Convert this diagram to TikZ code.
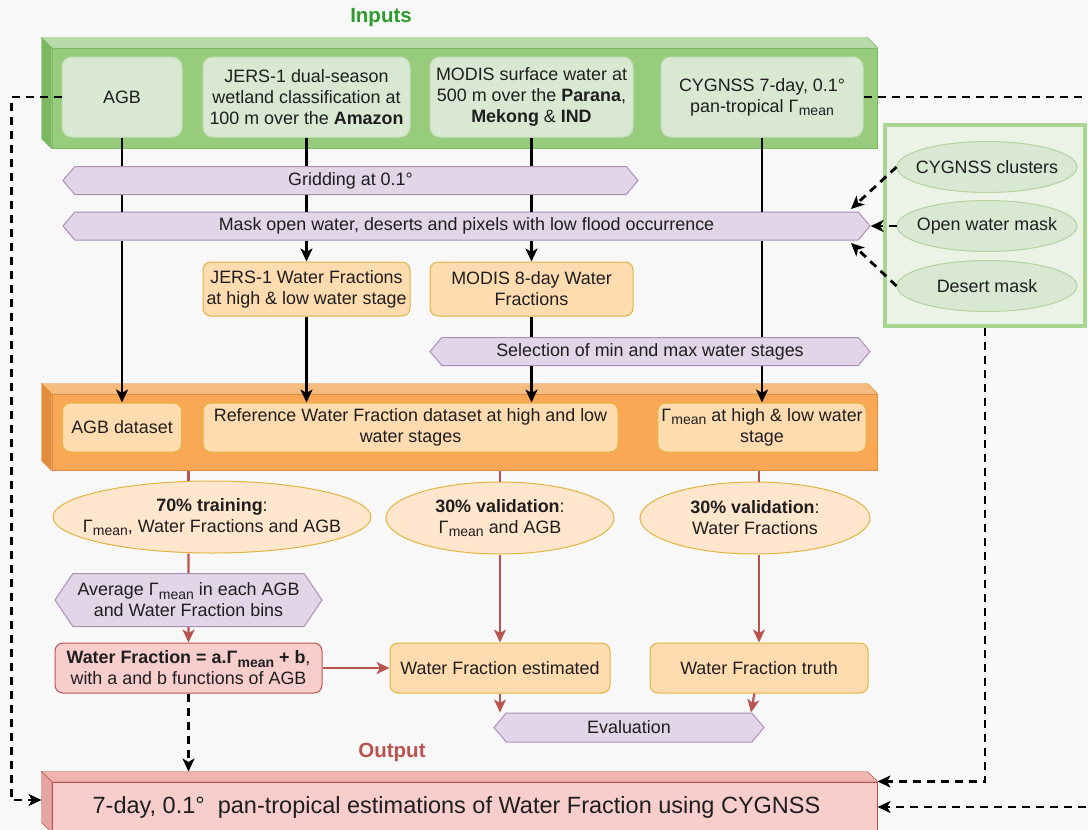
\documentclass[tikz,border=0pt]{standalone}
\usepackage{fontspec}
\setmainfont{Liberation Sans}
\usetikzlibrary{calc,positioning,arrows.meta,shapes.geometric,shapes.symbols}

\definecolor{bgcol}{RGB}{248,248,248}
\definecolor{txtcol}{RGB}{30,30,30}
\definecolor{inputgreen}{RGB}{45,155,45}
\definecolor{outred}{RGB}{184,84,80}
\definecolor{grfront}{RGB}{150,204,124}
\definecolor{grtop}{RGB}{184,218,168}
\definecolor{grside}{RGB}{124,184,96}
\definecolor{grinner}{RGB}{216,232,210}
\definecolor{grline}{RGB}{130,179,102}
\definecolor{grpanel}{RGB}{234,243,229}
\definecolor{grpanelline}{RGB}{168,214,145}
\definecolor{orfront}{RGB}{250,168,86}
\definecolor{ortop}{RGB}{246,188,128}
\definecolor{orside}{RGB}{226,140,60}
\definecolor{orinner}{RGB}{255,220,176}
\definecolor{orline}{RGB}{215,155,0}
\definecolor{orell}{RGB}{255,230,204}
\definecolor{pufill}{RGB}{225,213,231}
\definecolor{puline}{RGB}{150,115,166}
\definecolor{pkfill}{RGB}{248,206,204}
\definecolor{pktop}{RGB}{240,180,176}
\definecolor{pkside}{RGB}{230,165,160}
\definecolor{pkline}{RGB}{184,84,80}

\newcommand{\gmean}{Γ\kern0.3pt\raisebox{-0.35ex}{\fontsize{14}{14}\selectfont mean}}

\begin{document}
\begin{tikzpicture}[x=1pt, y=-1pt,
	font=\fontsize{17.9}{21}\selectfont,
	every node/.style={align=center, text=txtcol},
	title/.style={font=\fontsize{20.5}{24}\selectfont\bfseries},
	cubefront/.style={rectangle, minimum width=825pt, line width=1pt},
	inbox/.style={rectangle, rounded corners=10pt, fill=grinner, draw=grline!45, line width=1pt, minimum height=80pt},
	wfbox/.style={rectangle, rounded corners=8pt, fill=orinner, draw=orline!75, line width=1pt, minimum height=50pt},
	resbox/.style={wfbox, fill=pkfill, draw=pkline},
	procarrow/.style={signal, signal to=east and west, signal pointer angle=100, fill=pufill, draw=puline!80, line width=1pt, minimum height=28pt, inner sep=1pt},
	subset/.style={ellipse, fill=orell, draw=orline!75, line width=1pt, minimum height=72pt, inner xsep=-25pt, inner ysep=0pt},
	maskpanel/.style={rectangle, fill=grpanel, draw=grpanelline, line width=4pt},
	maskell/.style={ellipse, fill=grinner, draw=grline!60, line width=1pt, minimum width=180pt, minimum height=51pt, inner xsep=-20pt, inner ysep=0pt},
	link/.style={draw=black, line width=2.6pt},
	flow/.style={link, -{Stealth[length=13pt,width=12pt,inset=3.5pt]}},
	redlink/.style={draw=pkline, line width=2.2pt},
	redflow/.style={redlink, -{Stealth[length=13pt,width=12pt,inset=3.5pt]}},
	dashflow/.style={draw=black, line width=2.8pt, dash pattern=on 8pt off 6pt, -{Stealth[length=13pt,width=12pt,inset=3.5pt]}}
]

	% ---- parameters

	\def\depth{10}

	% ---- canvas

	\fill[bgcol] (0,0) rectangle (1088,830);
	\useasboundingbox (0,0) rectangle (1088,830);

	% ---- titles

	\node[title, text=inputgreen] (intitle) at (381,18) {Inputs};
	\node[title, text=outred] (outtitle) at (392,752) {Output};

	% ---- cube fronts

	\node[cubefront, fill=grfront, draw=grside, minimum height=100pt] (inputs) at (464.5,98) {};
	\node[cubefront, fill=orfront, draw=orside, minimum height=76pt] (datasets) at (464.5,432) {};
	\node[cubefront, fill=pkfill, draw=pkline, minimum height=50pt,
		font=\fontsize{23.5}{28}\selectfont] (output) at (464.5,807)
		{7-day, 0.1°\ \ pan-tropical estimations of Water Fraction using CYGNSS\hspace{16pt}};

	% ---- cube tops and sides

	\foreach \n/\top/\side/\edge in {inputs/grtop/grside/grside, datasets/ortop/orside/orside, output/pktop/pkside/pkline} {
		\filldraw[fill=\top, draw=\edge] (\n.north west) -- ++(-\depth,-\depth)
			-- ($(\n.north east)+(-\depth,-\depth)$) -- (\n.north east) -- cycle;
		\filldraw[fill=\side, draw=\edge] (\n.north west) -- ++(-\depth,-\depth)
			-- ($(\n.south west)+(-\depth,-\depth)$) -- (\n.south west) -- cycle;
	}

	% ---- inputs

	\node[inbox, minimum width=120pt] (agb) at (122,97) {AGB};
	\node[inbox, minimum width=207pt] (jers) at (306.5,97)
		{JERS-1 dual-season\\wetland classification at\\100 m over the \textbf{Amazon}};
	\node[inbox, minimum width=203pt] (modis) at (531.5,97)
		{MODIS surface water at\\500 m over the \textbf{Parana},\\\textbf{Mekong} \& \textbf{IND}};
	\node[inbox, minimum width=202pt] (cygnss) at (762,97)
		{CYGNSS 7-day, 0.1°\\pan-tropical \gmean};

	% ---- masks

	\node[maskpanel, minimum width=200pt, minimum height=201pt] (masks) at (985,225.5) {};
	\node[maskell] (clusters) at (987,167) {CYGNSS clusters};
	\node[maskell] (openwater) at (987,226) {Open water mask};
	\node[maskell] (desert) at (987,286) {Desert mask};

	% ---- processing

	\node[procarrow, minimum width=575pt] (grid) at (350.5,180.5) {Gridding at 0.1°};
	\node[procarrow, minimum width=807pt] (mask) at (466.5,226)
		{Mask open water, deserts and pixels with low flood occurrence};
	\node[wfbox, minimum width=207pt, minimum height=54pt] (jerswf) at (306.5,289)
		{JERS-1 Water Fractions\\at high \& low water stage};
	\node[wfbox, minimum width=203pt, minimum height=54pt] (modiswf) at (531.5,289)
		{MODIS 8-day Water\\Fractions};
	\node[procarrow, minimum width=440pt] (select) at (650,351.5)
		{Selection of min and max water stages};

	% ---- datasets

	\node[wfbox, minimum width=119pt, minimum height=49pt] (agbds) at (122,427.5) {AGB dataset};
	\node[wfbox, minimum width=415pt, minimum height=49pt] (refds) at (410.5,427.5)
		{Reference Water Fraction dataset at high and low\\water stages};
	\node[wfbox, minimum width=206pt, minimum height=49pt] (gammads) at (762,427.5)
		{\gmean{} at high \& low water\\stage};

	% ---- training and validation

	\node[subset, minimum width=318pt] (train) at (212,517)
		{\textbf{70\% training}:\\\gmean, Water Fractions and AGB};
	\node[subset, minimum width=228pt] (val1) at (500,518)
		{\textbf{30\% validation}:\\\gmean{} and AGB};
	\node[subset, minimum width=230pt] (val2) at (755,518)
		{\textbf{30\% validation}:\\Water Fractions};

	\node[procarrow, signal pointer angle=112, minimum width=267pt, minimum height=53pt] (avg) at (188.5,600)
		{Average \gmean{} in each AGB\\and Water Fraction bins};
	\node[resbox, minimum width=267pt] (wfeq) at (188.5,668)
		{\textbf{Water Fraction = a.\gmean{} + b},\\with a and b functions of AGB};
	\node[wfbox, minimum width=220pt] (wfest) at (500,668) {Water Fraction estimated};
	\node[wfbox, minimum width=218pt] (wftruth) at (759,668) {Water Fraction truth};
	\node[procarrow, minimum width=270pt, minimum height=29pt] (eval) at (629,727.5) {Evaluation};

	% ---- input flows

	\draw[link] (agb) -- (agb |- grid.north);
	\draw[link] (agb |- grid.south) -- (agb |- mask.north);
	\draw[flow] (agb |- mask.south) -- (agbds);
	\draw[link] (jers) -- (jers |- grid.north);
	\draw[link] (jers |- grid.south) -- (jers |- mask.north);
	\draw[flow] (jers |- mask.south) -- (jerswf);
	\draw[flow] (jerswf) -- (jerswf |- refds.north);
	\draw[link] (modis) -- (modis |- grid.north);
	\draw[link] (modis |- grid.south) -- (modis |- mask.north);
	\draw[flow] (modis |- mask.south) -- (modiswf);
	\draw[link] (modiswf) -- (modiswf |- select.north);
	\draw[flow] (modiswf |- select.south) -- (modiswf |- refds.north);
	\draw[link] (cygnss) -- (cygnss |- mask.north);
	\draw[link] (cygnss |- mask.south) -- (cygnss |- select.north);
	\draw[flow] (cygnss |- select.south) -- (gammads);

	% ---- mask flows

	\coordinate (maskNE) at (851,209);
	\coordinate (maskSE) at (851,243);
	\draw[dashflow] (clusters.west) -- (maskNE);
	\draw[dashflow] (openwater) -- (mask.east);
	\draw[dashflow] (desert.west) -- (maskSE);

	% ---- training and validation flows

	\draw[redlink] (avg |- datasets.south) -- (avg |- train.north);
	\draw[redlink] (avg |- train.south) -- (avg);
	\draw[redflow] (avg) -- (wfeq);
	\draw[redlink] (val1 |- datasets.south) -- (val1);
	\draw[redflow] (val1) -- (wfest);
	\draw[redlink] (wftruth |- datasets.south) -- (wftruth |- val2.north);
	\draw[redflow] (wftruth |- val2.south) -- (wftruth);
	\draw[redflow] (wfeq) -- (wfest);
	\draw[redflow] (wfest) -- (wfest |- eval.north);
	\draw[redflow] (wftruth) -- ($(wftruth.south |- eval.north)+(-8,0)$);

	% ---- output flows

	\draw[dashflow] (wfeq) -- ($(wfeq |- output.north)+(0,-\depth)$);
	\draw[dashflow] (agb.west) -- ++(-50,0) |- ($(output.west)+(-\depth,-7)$);
	\draw[dashflow] (cygnss.east) -- ++(260,0) |- (output.east);
	\draw[dashflow] (masks.south) |- (output.north east);

\end{tikzpicture}
\end{document}
